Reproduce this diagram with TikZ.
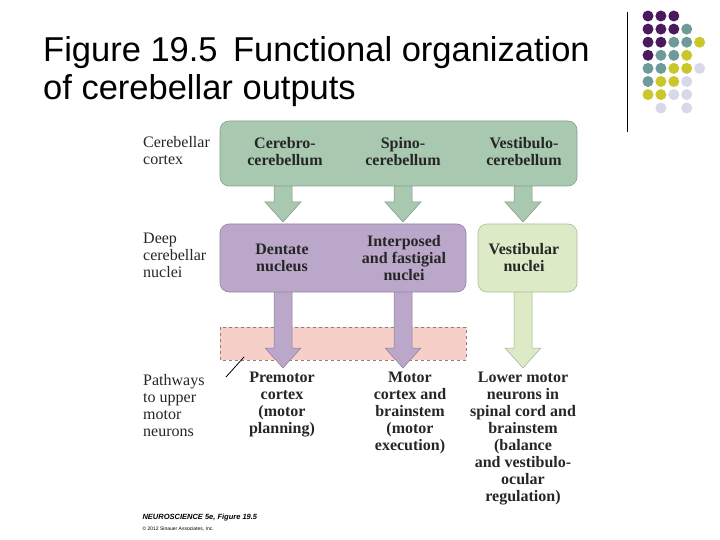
\documentclass[tikz,border=0pt]{standalone}
\usepackage{fontspec}
\setmainfont{Liberation Serif}
\newfontfamily\titlefont{Liberation Sans}
\definecolor{gtop}{HTML}{A8C8B0}
\definecolor{pur}{HTML}{BBA7CA}
\definecolor{lgr}{HTML}{DCEAC6}
\definecolor{pink}{HTML}{F6D0C8}
\definecolor{dP}{HTML}{4A1A5C}
\definecolor{dT}{HTML}{6E9A9A}
\definecolor{dY}{HTML}{C9C72A}
\definecolor{dL}{HTML}{D8D8E8}
\begin{document}
\begin{tikzpicture}[x=1pt,y=-1pt,
  box/.style={rounded corners=9pt,draw=#1!80!black,fill=#1,line width=0.6pt},
  lab/.style={font=\fontsize{16}{17}\selectfont\bfseries,align=center,text=black!85,inner sep=0pt},
  side/.style={font=\fontsize{16}{17}\selectfont,align=left,anchor=north west,text=black!85,inner sep=0pt},
  dot/.style={circle,fill=#1,inner sep=0pt,minimum size=11pt}]
\useasboundingbox (0,0) rectangle (720,540);
\fill[white] (0,0) rectangle (720,540);
\node[anchor=west,font=\titlefont\fontsize{34.5}{38}\selectfont,align=left,inner sep=0pt] (title) at (43,72) {Figure 19.5\,\ Functional organization\\of cerebellar outputs};
\draw[line width=1pt] (627,12) -- (627,132);
% dots
\foreach \r/\row in {0/{dP,dP,dP},1/{dP,dP,dP,dT},2/{dP,dP,dT,dT,dY},3/{dP,dT,dT,dY},4/{dT,dT,dY,dY,dL},5/{dT,dY,dY,dL},6/{dY,dY,dL,dL}}{
  \foreach \c [count=\i from 0] in \row {\node[dot=\c] at (648+12.9*\i,16+13.1*\r) {};}}
\node[dot=dL] at (660.9,108) {};
\node[dot=dL] at (686.7,108) {};
% pink band
\draw[pink!60!black,dashed,fill=pink] (220,327) rectangle (466,360);
% arrows
\foreach \x/\ya/\yb/\c in {283/186/222/gtop,403/186/222/gtop,523/186/222/gtop,283/292/368/pur,403/292/368/pur,523/292/368/lgr}{
 \draw[fill=\c,draw=\c!75!black,line width=0.5pt] (\x-9,\ya-2) -- (\x-9,\yb-20) -- (\x-18,\yb-20) -- (\x,\yb) -- (\x+18,\yb-20) -- (\x+9,\yb-20) -- (\x+9,\ya-2);}
% boxes
\draw[box=gtop] (220,121) rectangle (577,186);
\draw[box=pur] (220,224) rectangle (466,292);
\draw[box=lgr] (478,224) rectangle (577,292);
\node[lab] (cc) at (285,152) {Cerebro-\\cerebellum};
\node[lab] (sc) at (403,152) {Spino-\\cerebellum};
\node[lab] (vc) at (524,152) {Vestibulo-\\cerebellum};
\node[lab] (dn) at (282,258) {Dentate\\nucleus};
\node[lab] (in) at (404,258) {Interposed\\and fastigial\\nuclei};
\node[lab] (vn) at (524,258) {Vestibular\\nuclei};
\node[lab,anchor=north] (pm) at (282,372) {Premotor\\cortex\\(motor\\planning)};
\node[lab,anchor=north] (mc) at (410,372) {Motor\\cortex and\\brainstem\\(motor\\execution)};
\node[lab,anchor=north] (lm) at (523,372) {Lower motor\\neurons in\\spinal cord and\\brainstem\\(balance\\and vestibulo-\\ocular\\regulation)};
\node[side] (l1) at (143,136) {Cerebellar\\cortex};
\node[side] (l2) at (143,233) {Deep\\cerebellar\\nuclei};
\node[side] (l3) at (143,374) {Pathways\\to upper\\motor\\neurons};
\coordinate (pt) at (244,357);
\draw[line width=0.8pt] (226,377) -- (pt);
\node[anchor=west,font=\titlefont\fontsize{7.5}{8}\selectfont\bfseries\itshape] (cr) at (139,518) {NEUROSCIENCE 5e, Figure 19.5};
\node[anchor=west,font=\titlefont\fontsize{5}{6}\selectfont] (cp) at (139,529) {\textcopyright\ 2012 Sinauer Associates, Inc.};
\end{tikzpicture}
\end{document}
